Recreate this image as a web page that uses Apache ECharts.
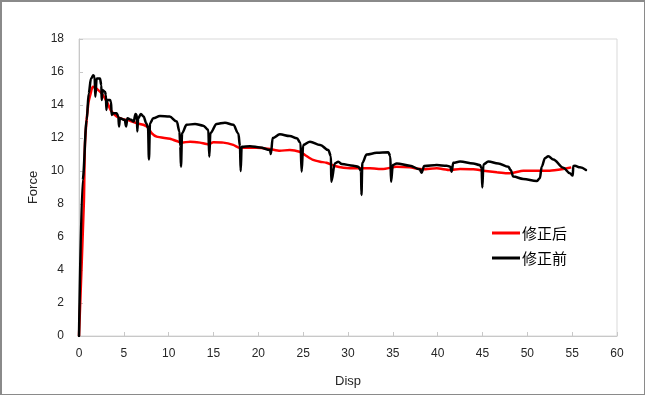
<!DOCTYPE html>
<html>
<head>
<meta charset="utf-8">
<script src="https://cdn.jsdelivr.net/npm/echarts@6/dist/echarts.min.js"></script>
<style>
html,body{margin:0;padding:0;background:#fff;}
#frame{position:absolute;left:0;top:0;width:645px;height:395px;box-sizing:border-box;border:1px solid #8a8a8a;border-left-width:2px;border-top-width:2px;pointer-events:none;z-index:5;}
#chart{position:absolute;left:0;top:0;width:646px;height:396px;}
</style>
</head>
<body>
<div id="chart"></div>
<div id="frame"></div>
<script>
const seriesNames = ['修正后', '修正前'];
const xAxisTitle = 'Disp';
const yAxisTitle = 'Force';

const dispAfter = [0,0.55,0.67,1.04,1.3,1.53,1.78,2.15,2.53,2.9,3.27,3.64,4.2,4.94,5.69,6.43,7.17,7.55,7.73,8.1,8.66,10.15,11.07,11.45,12.38,13.5,14.42,14.98,16.1,17.2,17.95,19.8,21.3,22.4,23.5,24.6,25.2,26.1,26.9,27.6,28.55,29.5,31.0,32.45,33.9,35.4,36.9,38.4,39.9,41.37,42.5,43.97,45.1,46.6,47.7,48.43,49.55,51.04,52.5,54.0,54.9];
const forceAfter = [0,8.2,11.7,14.1,14.7,15.1,15.05,14.9,14.7,14.4,14.0,13.6,13.3,13.13,13.05,12.9,12.8,12.7,12.6,12.3,12.08,11.95,11.78,11.72,11.78,11.72,11.62,11.74,11.72,11.58,11.41,11.41,11.33,11.23,11.27,11.17,10.97,10.67,10.56,10.5,10.3,10.2,10.16,10.16,10.12,10.26,10.22,10.1,10.16,10.06,10.12,10.1,10.02,9.92,9.86,9.9,10.02,10.02,10.02,10.12,10.22];

const dispBefore = [0,0.41,0.86,1.08,1.34,1.6,1.74,1.82,1.97,2.34,2.49,2.53,2.64,2.9,3.0,3.05,3.16,3.46,3.57,3.64,3.83,4.2,4.39,4.46,4.57,5.1,5.25,5.4,5.8,6.1,6.3,6.45,6.5,6.6,6.9,7.2,7.5,7.7,7.8,7.92,8.29,9.03,10.1,10.9,11.2,11.3,11.37,11.5,12.0,12.94,13.86,14.42,14.53,14.65,15.35,16.28,17.2,17.77,17.95,18.03,18.14,19.07,20.2,21.3,21.4,21.6,22.4,23.5,24.3,24.7,24.83,25.0,25.76,26.9,27.8,28.1,28.13,28.55,28.92,29.3,30.6,31.15,31.45,31.5,31.6,32.08,33.2,34.5,34.72,34.8,35.0,35.43,36.9,38.0,38.2,38.5,39.9,41.0,41.4,41.56,41.74,42.5,43.97,44.7,44.9,44.98,45.1,45.65,46.76,47.88,48.14,48.43,49.55,51.04,51.4,51.6,51.97,52.34,52.9,54.0,54.75,55.06,55.13,55.3,55.87,56.54];
const forceBefore = [0,9.45,13.1,14.7,15.6,15.8,15.7,14.5,15.6,15.6,15.2,14.3,14.9,14.8,14.6,13.7,14.3,14.3,14.2,13.4,13.5,13.5,13.3,12.7,13.2,13.1,12.7,13.2,13.1,13.0,13.45,13.4,12.4,13.2,13.45,13.3,12.9,12.6,10.7,12.9,13.2,13.33,13.3,13.0,12.4,11.5,10.26,12.3,12.8,12.85,12.75,12.5,10.87,12.3,12.85,12.93,12.8,12.28,11.5,10.0,11.47,11.5,11.43,11.27,11.03,12.0,12.22,12.12,11.98,11.7,9.96,11.58,11.78,11.58,11.27,10.9,9.35,10.47,10.56,10.42,10.32,10.26,10.0,8.55,10.5,11.0,11.1,11.13,10.9,9.35,10.36,10.46,10.32,10.1,9.9,10.3,10.36,10.32,10.26,9.96,10.5,10.57,10.46,10.36,10.2,9.0,10.4,10.57,10.46,10.26,10.06,9.66,9.52,9.39,9.56,10.26,10.77,10.9,10.7,10.2,9.86,9.72,10.3,10.32,10.22,10.06];

const zip = (xs, ys) => xs.map((x, i) => [x, ys[i]]);

const axisFont = {fontFamily: 'Liberation Sans', fontSize: 12, color: '#262626'};
const chart = echarts.init(document.getElementById('chart'), null, {renderer: 'canvas'});
chart.setOption({
  animation: false,
  backgroundColor: '#fff',
  grid: {left: 79, top: 39, right: 29, bottom: 60, show: true, borderColor: '#d9d9d9', borderWidth: 1},
  legend: {
    orient: 'vertical', left: 492, top: 224, padding: 0, itemGap: 7,
    itemWidth: 28, itemHeight: 3, icon: 'rect',
    textStyle: {fontFamily: 'Noto Sans CJK SC', fontSize: 15, color: '#000', padding: [0,0,0,-3], lineHeight: 18},
    data: seriesNames
  },
  xAxis: {
    type: 'value', min: 0, max: 60, interval: 5,
    name: xAxisTitle, nameLocation: 'middle', nameGap: 39,
    nameTextStyle: {fontFamily: 'Liberation Sans', fontSize: 13, color: '#262626'},
    axisLine: {show: true, lineStyle: {color: '#c8c8c8', width: 1}},
    axisTick: {show: true, inside: true, length: 4, lineStyle: {color: '#c8c8c8'}},
    axisLabel: Object.assign({margin: 12}, axisFont),
    splitLine: {show: false}
  },
  yAxis: {
    type: 'value', min: 0, max: 18, interval: 2,
    name: yAxisTitle, nameLocation: 'middle', nameGap: 38, nameRotate: 90,
    nameTextStyle: {fontFamily: 'Liberation Sans', fontSize: 13, color: '#262626'},
    axisLine: {show: true, lineStyle: {color: '#c8c8c8', width: 1}},
    axisTick: {show: true, inside: true, length: 4, lineStyle: {color: '#c8c8c8'}},
    axisLabel: Object.assign({margin: 15}, axisFont),
    splitLine: {show: false}
  },
  series: [
    {name: seriesNames[0], type: 'line', data: zip(dispAfter, forceAfter), symbol: 'none', smooth: 0.2,
     lineStyle: {color: '#ff0000', width: 2.5}, itemStyle: {color: '#ff0000'}},
    {name: seriesNames[1], type: 'line', data: zip(dispBefore, forceBefore), symbol: 'none', smooth: 0.35, smoothMonotone: 'x',
     lineStyle: {color: '#000000', width: 2.5, join: 'round', cap: 'round'}, itemStyle: {color: '#000000'}}
  ]
});
</script>
</body>
</html>
